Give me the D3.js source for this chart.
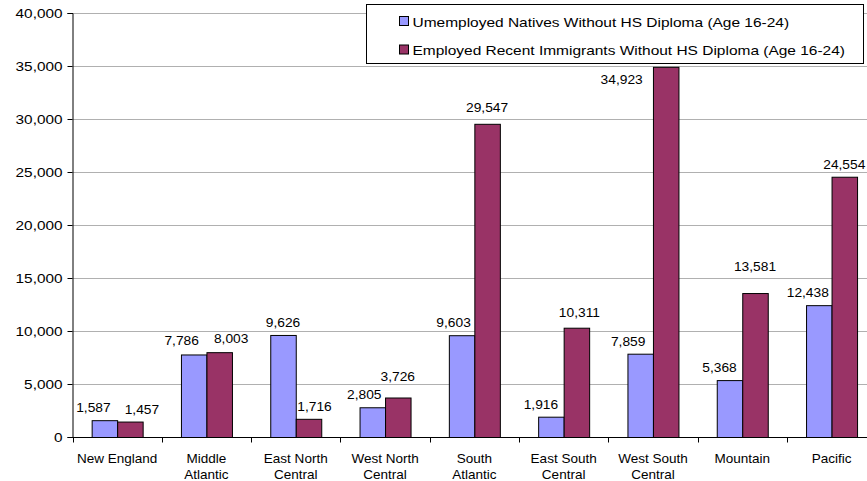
<!DOCTYPE html>
<html lang="en">
  <head>
    <meta charset="UTF-8" />
    <title>Natives vs Recent Immigrants Without HS Diploma</title>
    <script src="https://d3js.org/d3.v7.min.js"></script>
    <style>
      body { margin: 0; background: #fff; }
      svg { font-family: "Liberation Sans", Arial, sans-serif; }
      .grid line { stroke: #b0b0b0; stroke-width: 1; }
      .bar { stroke: #000; stroke-width: 1; }
    </style>
  </head>
  <body>
    <svg id="chart" width="867" height="481"></svg>

    <script>
      // data
      const regions = [
        "New England", "Middle Atlantic", "East North Central", "West North Central",
        "South Atlantic", "East South Central", "West South Central", "Mountain", "Pacific"
      ];
      const regionLines = [
        ["New England"], ["Middle", "Atlantic"], ["East North", "Central"], ["West North", "Central"],
        ["South", "Atlantic"], ["East South", "Central"], ["West South", "Central"], ["Mountain"], ["Pacific"]
      ];
      const seriesNames = [
        "Umemployed Natives Without HS Diploma (Age 16-24)",
        "Employed Recent Immigrants Without HS Diploma (Age 16-24)"
      ];
      const natives = [1587, 7786, 9626, 2805, 9603, 1916, 7859, 5368, 12438];
      const immigrants = [1457, 8003, 1716, 3726, 29547, 10311, 34923, 13581, 24554];
      const yTicks = [0, 5000, 10000, 15000, 20000, 25000, 30000, 35000, 40000];

      const colors = ["#9999ff", "#993366"];

      // label placement tweaks (Excel moved some labels to avoid overlaps)
      const nudge = {
        "0-0": [-11, 0], "0-1": [12, 0],
        "1-0": [-12, -1], "1-1": [12, -1],
        "2-1": [6, 0],
        "3-0": [-8, 0], "3-1": [0, -9],
        "4-0": [-8, 0], "4-1": [0, -4],
        "5-0": [-10, 0], "5-1": [3, -3],
        "6-0": [-12, 0], "6-1": [-44, 25],
        "7-0": [-10, 0], "7-1": [0, -14],
        "8-0": [-11, 0]
      };

      // the original text is a bit wider than Arial at the same height
      function stretch(sel, k) {
        sel.each(function () {
          const len = this.getComputedTextLength();
          this.setAttribute("textLength", len * k);
          this.setAttribute("lengthAdjust", "spacingAndGlyphs");
        });
      }

      const svg = d3.select("#chart");
      const plotLeft = 72.5, plotTop = 13, plotBottom = 437;
      const bandW = 89.3;

      const x = d3.scaleBand()
        .domain(regions)
        .range([plotLeft, plotLeft + bandW * regions.length])
        .paddingInner(0)
        .paddingOuter(0);
      const y = d3.scaleLinear().domain([0, 40000]).range([plotBottom, plotTop]);
      const barW = 25.5;

      // gridlines
      svg.append("g").attr("class", "grid")
        .selectAll("line")
        .data(yTicks.slice(1))
        .join("line")
        .attr("x1", plotLeft).attr("x2", 867)
        .attr("y1", d => Math.round(y(d)) + 0.5)
        .attr("y2", d => Math.round(y(d)) + 0.5);

      // bars
      const data = regions.map((r, i) => ({ r, i, v: [natives[i], immigrants[i]] }));
      const groups = svg.append("g").selectAll("g")
        .data(data)
        .join("g");

      groups.each(function (d) {
        const g = d3.select(this);
        const cx = x(d.r) + x.bandwidth() / 2;
        d.v.forEach((v, s) => {
          const x0 = cx - barW + s * barW;
          g.append("rect")
            .attr("class", "bar")
            .attr("x", x0 + 0.5)
            .attr("y", y(v) + 0.5)
            .attr("width", barW)
            .attr("height", plotBottom - y(v))
            .attr("fill", colors[s]);
          const n = nudge[d.i + "-" + s] || [0, 0];
          g.append("text")
            .attr("class", "val")
            .attr("x", x0 + barW / 2 + n[0])
            .attr("y", y(v) - 8 + n[1])
            .attr("text-anchor", "middle")
            .attr("font-size", 13)
            .attr("fill", "#000")
            .text(d3.format(",")(v));
        });
      });
      stretch(svg.selectAll("text.val"), 1.06);

      // y axis
      const yAxis = svg.append("g")
        .attr("transform", `translate(${plotLeft},0)`)
        .call(d3.axisLeft(y).tickValues(yTicks).tickSize(5).tickPadding(5).tickFormat(d3.format(",")));
      yAxis.select(".domain").attr("stroke", "#000");
      yAxis.selectAll("text").attr("font-size", 13).attr("fill", "#000")
        .attr("font-family", "Liberation Sans, Arial, sans-serif");
      stretch(yAxis.selectAll("text"), 1.18);

      // x axis
      const xAxis = svg.append("g")
        .attr("transform", `translate(0,${plotBottom + 0.5})`);
      xAxis.append("line")
        .attr("x1", plotLeft).attr("x2", 867)
        .attr("stroke", "#000");
      xAxis.selectAll("line.tick")
        .data(d3.range(regions.length + 1))
        .join("line")
        .attr("class", "tick")
        .attr("x1", i => Math.round(plotLeft + i * bandW) + 0.5)
        .attr("x2", i => Math.round(plotLeft + i * bandW) + 0.5)
        .attr("y1", 0).attr("y2", 5)
        .attr("stroke", "#000");

      const labels = xAxis.selectAll("text.cat")
        .data(regionLines)
        .join("text")
        .attr("class", "cat")
        .attr("text-anchor", "middle")
        .attr("font-size", 13)
        .attr("fill", "#000")
        .attr("transform", (d, i) => `translate(${x(regions[i]) + x.bandwidth() / 2},25.5)`);
      labels.selectAll("tspan")
        .data(d => d)
        .join("tspan")
        .attr("x", 0)
        .attr("dy", (d, j) => j === 0 ? 0 : 16)
        .text(d => d);
      stretch(labels.selectAll("tspan"), 1.04);

      // legend
      const legend = svg.append("g").attr("transform", "translate(366.5,4.5)");
      legend.append("rect")
        .attr("width", 497).attr("height", 59)
        .attr("fill", "#fff").attr("stroke", "#000");
      seriesNames.forEach((name, s) => {
        const ly = 22 + s * 28.5;
        legend.append("rect")
          .attr("x", 33).attr("y", ly - 10)
          .attr("width", 9).attr("height", 9)
          .attr("fill", colors[s]).attr("stroke", "#000");
        legend.append("text")
          .attr("class", "leg")
          .attr("x", 46).attr("y", ly)
          .attr("font-size", 13)
          .attr("fill", "#000")
          .text(name);
      });
      stretch(legend.selectAll("text.leg"), 1.19);
    </script>
  </body>
</html>
